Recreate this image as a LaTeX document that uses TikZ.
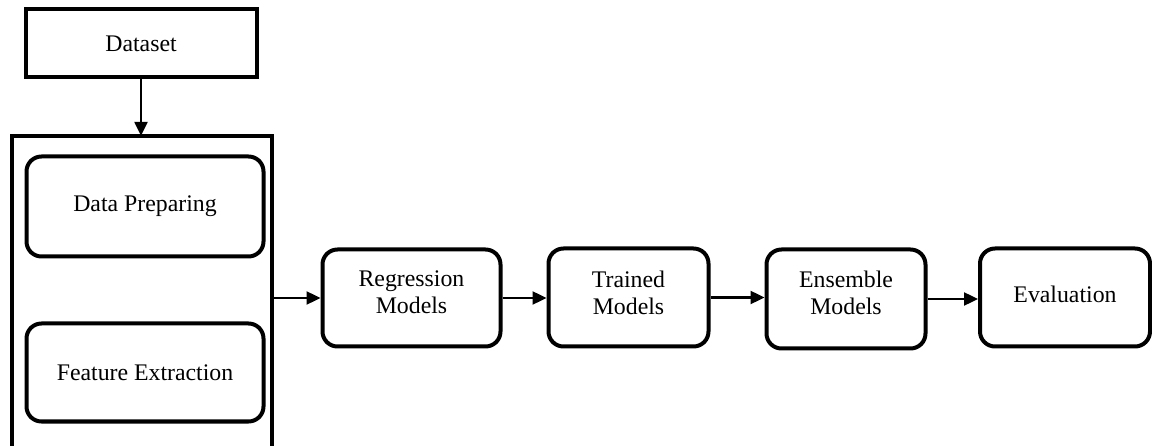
\documentclass[tikz,border=0pt]{standalone}
\usepackage{fontspec}
\setmainfont{Liberation Serif}
\usetikzlibrary{arrows.meta}
\begin{document}
\begin{tikzpicture}[x=1pt,y=-1pt,
  txt/.style={align=center, font=\fontsize{23.8}{27.5}\selectfont, inner sep=0pt},
  plainbox/.style={txt, draw, line width=4pt},
  rbox/.style={txt, draw, line width=4pt, rounded corners=15pt},
  lbl/.style={txt},
  arr/.style={line width=2.4pt, -{Triangle[length=14pt,width=13pt]}}]
\useasboundingbox (0,0) rectangle (1152,446);
\node[plainbox, minimum width=231pt, minimum height=68pt] (ds) at (141,43.5) {Dataset};
\node[inner sep=0pt, minimum width=259pt, minimum height=314pt] (ct) at (142,293) {};
\draw[line width=4pt] (ct.south west) -- (ct.north west) -- (ct.north east) -- (ct.south east);
\node[rbox, minimum width=237pt, minimum height=100pt] (dp) at (145,206.5) {Data Preparing};
\node[rbox, minimum width=237pt, minimum height=98pt] (fe) at (145,372.5) {Feature Extraction};
\node[rbox, minimum width=178pt, minimum height=97pt] (reg) at (411.5,298) {};
\node[lbl] (regt) at (411.5,292) {Regression\\Models};
\node[rbox, minimum width=160pt, minimum height=98pt] (tr) at (628.5,297.5) {};
\node[lbl] (trt) at (628.5,293) {Trained\\Models};
\node[rbox, minimum width=159pt, minimum height=99pt] (ens) at (846,299) {};
\node[lbl] (enst) at (846,293) {Ensemble\\Models};
\node[rbox, minimum width=170pt, minimum height=98pt] (ev) at (1065,297.5) {};
\node[lbl] (evt) at (1065,294) {Evaluation};
\draw[arr] (ds.south) -- (ds.south |- ct.north);
\draw[arr] (ct.east |- reg.west) -- (reg.west);
\draw[arr] (reg.east) -- (reg.east -| tr.west);
\draw[arr] (tr.east) -- (tr.east -| ens.west);
\draw[arr] (ens.east) -- (ens.east -| ev.west);
\end{tikzpicture}
\end{document}
